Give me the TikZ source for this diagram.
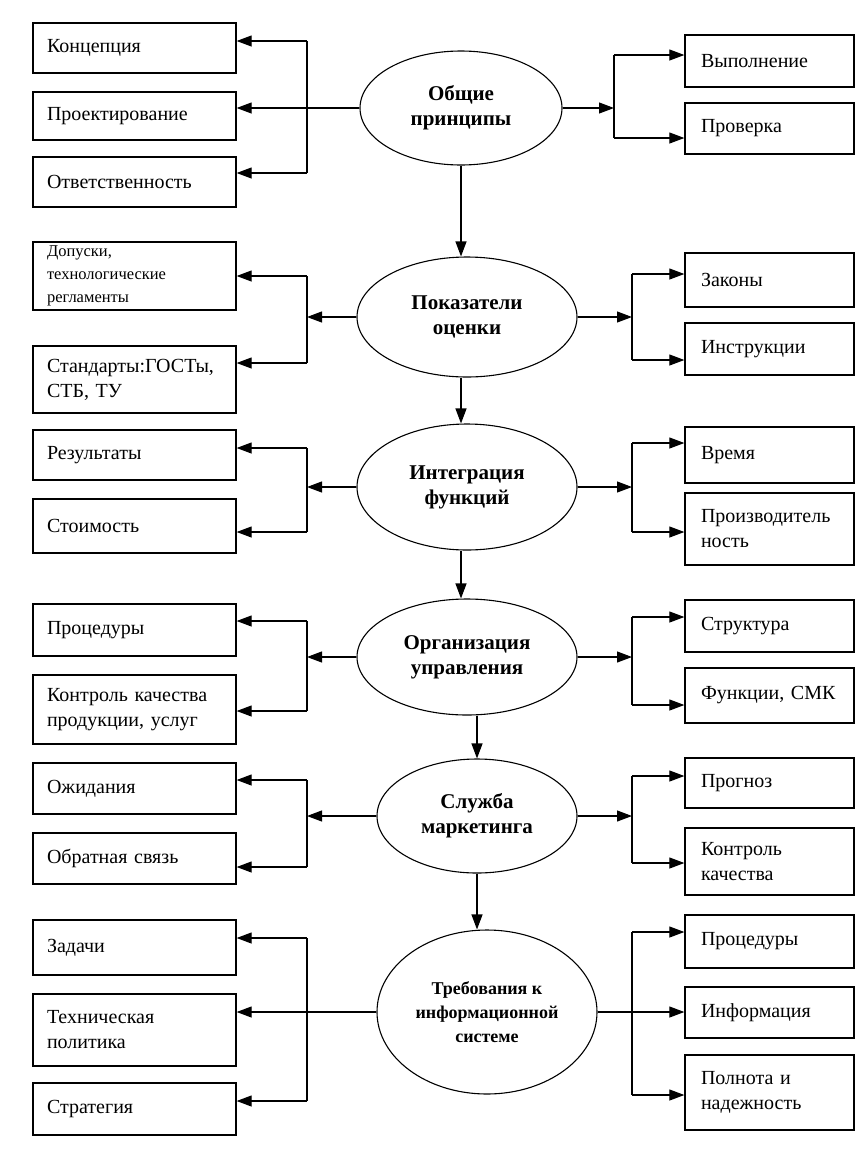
\documentclass[tikz,border=0pt]{standalone}
\usepackage{fontspec}
\setmainfont{Liberation Serif}
\usetikzlibrary{arrows.meta,shapes.geometric}

\begin{document}
\begin{tikzpicture}[x=1pt,y=-1pt,line width=1.1pt,
  arr/.style={-{Triangle[length=15pt,width=11pt]}},
  lbox/.style={draw,line width=1.3pt,rectangle,inner xsep=14pt,inner ysep=0pt,text width=175pt,align=left,font=\fontsize{20}{25}\selectfont},
  rbox/.style={lbox,inner xsep=16pt,text width=137pt},
  oval/.style={draw,ellipse,inner sep=0pt,align=center,font=\fontsize{21}{25}\selectfont\bfseries}]
\useasboundingbox (0,0) rectangle (857,1149);

\node[lbox,minimum height=50pt] (concept) at (134.5,48) {Концепция};
\node[lbox,minimum height=48pt] (design) at (134.5,116) {Проектирование};
\node[lbox,minimum height=50pt] (duty) at (134.5,182) {Ответственность};
\node[lbox,minimum height=68pt,font=\fontsize{16.5}{23}\selectfont] (tolerances) at (134.5,276) {Допуски,\\технологические\\регламенты};
\node[lbox,minimum height=67pt] (standards) at (134.5,379.5) {Стандарты:ГОСТы,\\СТБ, ТУ};
\node[lbox,minimum height=50pt] (results) at (134.5,455) {Результаты};
\node[lbox,minimum height=54pt] (cost) at (134.5,526) {Стоимость};
\node[lbox,minimum height=52pt] (procL) at (134.5,630) {Процедуры};
\node[lbox,minimum height=69pt] (quality) at (134.5,709.5) {Контроль качества\\продукции, услуг};
\node[lbox,minimum height=51pt] (expect) at (134.5,788.5) {Ожидания};
\node[lbox,minimum height=51pt] (feedback) at (134.5,858.5) {Обратная связь};
\node[lbox,minimum height=55pt] (tasks) at (134.5,947.5) {Задачи};
\node[lbox,minimum height=72pt] (techpol) at (134.5,1030) {Техническая\\политика};
\node[lbox,minimum height=52pt] (strategy) at (134.5,1109) {Стратегия};

\node[rbox,minimum height=52pt] (execution) at (769.5,61) {Выполнение};
\node[rbox,minimum height=51pt] (check) at (769.5,128.5) {Проверка};
\node[rbox,minimum height=54pt] (laws) at (769.5,280) {Законы};
\node[rbox,minimum height=52pt] (instructions) at (769.5,349) {Инструкции};
\node[rbox,minimum height=56pt] (time) at (769.5,455) {Время};
\node[rbox,minimum height=72pt] (productivity) at (769.5,529) {Производитель\\ность};
\node[rbox,minimum height=52pt] (structure) at (769.5,626) {Структура};
\node[rbox,minimum height=55pt] (functions) at (769.5,695.5) {Функции, СМК};
\node[rbox,minimum height=50pt] (forecast) at (769.5,783) {Прогноз};
\node[rbox,minimum height=67pt] (qcontrol) at (769.5,861.5) {Контроль\\качества};
\node[rbox,minimum height=53pt] (procR) at (769.5,941.5) {Процедуры};
\node[rbox,minimum height=51pt] (info) at (769.5,1012.5) {Информация};
\node[rbox,minimum height=75pt] (complete) at (769.5,1092.5) {Полнота и\\надежность};

\node[oval,minimum width=202pt,minimum height=114pt] (principles) at (461,108) {Общие\\принципы};
\node[oval,minimum width=220pt,minimum height=120pt] (indicators) at (467,317) {Показатели\\оценки};
\node[oval,minimum width=220pt,minimum height=126pt] (integration) at (467,487) {Интеграция\\функций};
\node[oval,minimum width=220pt,minimum height=116pt] (management) at (467,657) {Организация\\управления};
\node[oval,minimum width=200pt,minimum height=114pt] (marketing) at (477,816) {Служба\\маркетинга};
\node[oval,minimum width=220pt,minimum height=164pt,font=\fontsize{18}{24}\selectfont\bfseries] (infosys) at (487,1012) {Требования к\\информационной\\системе};

\coordinate (spine) at (461,0);
\draw[arr] (spine |- principles.south) -- (spine |- indicators.north);
\draw[arr] (spine |- indicators.south) -- (spine |- integration.north);
\draw[arr] (spine |- integration.south) -- (spine |- management.north);
\draw[arr] (marketing.north |- management.south) -- (marketing.north);
\draw[arr] (marketing.south) -- (marketing.south |- infosys.north);

\coordinate (lb1t) at (307,41);
\coordinate (lb1b) at (307,173);
\draw (lb1t) -- (lb1b);
\draw[arr] (lb1t) -- (lb1t -| concept.east);
\draw[arr] (lb1b) -- (lb1b -| duty.east);
\draw[arr] (principles.west) -- (principles.west -| design.east);

\coordinate (lb2t) at (307,276);
\coordinate (lb2b) at (307,363);
\draw (lb2t) -- (lb2b);
\draw[arr] (lb2t) -- (lb2t -| tolerances.east);
\draw[arr] (lb2b) -- (lb2b -| standards.east);
\draw[arr] (indicators.west) -- (indicators.west -| lb2t);

\coordinate (lb3t) at (307,448);
\coordinate (lb3b) at (307,532);
\draw (lb3t) -- (lb3b);
\draw[arr] (lb3t) -- (lb3t -| results.east);
\draw[arr] (lb3b) -- (lb3b -| cost.east);
\draw[arr] (integration.west) -- (integration.west -| lb3t);

\coordinate (lb4t) at (307,621);
\coordinate (lb4b) at (307,711);
\draw (lb4t) -- (lb4b);
\draw[arr] (lb4t) -- (lb4t -| procL.east);
\draw[arr] (lb4b) -- (lb4b -| quality.east);
\draw[arr] (management.west) -- (management.west -| lb4t);

\coordinate (lb5t) at (307,780);
\coordinate (lb5b) at (307,867);
\draw (lb5t) -- (lb5b);
\draw[arr] (lb5t) -- (lb5t -| expect.east);
\draw[arr] (lb5b) -- (lb5b -| feedback.east);
\draw[arr] (marketing.west) -- (marketing.west -| lb5t);

\coordinate (lb6t) at (307,938);
\coordinate (lb6b) at (307,1101);
\draw (lb6t) -- (lb6b);
\draw[arr] (lb6t) -- (lb6t -| tasks.east);
\draw[arr] (lb6b) -- (lb6b -| strategy.east);
\draw[arr] (infosys.west) -- (infosys.west -| techpol.east);

\coordinate (rb1t) at (614,55);
\coordinate (rb1b) at (614,138);
\draw (rb1t) -- (rb1b);
\draw[arr] (rb1t) -- (rb1t -| execution.west);
\draw[arr] (rb1b) -- (rb1b -| check.west);
\draw[arr] (principles.east) -- (principles.east -| rb1t);

\coordinate (rb2t) at (632,274);
\coordinate (rb2b) at (632,360);
\draw (rb2t) -- (rb2b);
\draw[arr] (rb2t) -- (rb2t -| laws.west);
\draw[arr] (rb2b) -- (rb2b -| instructions.west);
\draw[arr] (indicators.east) -- (indicators.east -| rb2t);

\coordinate (rb3t) at (632,443);
\coordinate (rb3b) at (632,532);
\draw (rb3t) -- (rb3b);
\draw[arr] (rb3t) -- (rb3t -| time.west);
\draw[arr] (rb3b) -- (rb3b -| productivity.west);
\draw[arr] (integration.east) -- (integration.east -| rb3t);

\coordinate (rb4t) at (632,617);
\coordinate (rb4b) at (632,705);
\draw (rb4t) -- (rb4b);
\draw[arr] (rb4t) -- (rb4t -| structure.west);
\draw[arr] (rb4b) -- (rb4b -| functions.west);
\draw[arr] (management.east) -- (management.east -| rb4t);

\coordinate (rb5t) at (632,776);
\coordinate (rb5b) at (632,863);
\draw (rb5t) -- (rb5b);
\draw[arr] (rb5t) -- (rb5t -| forecast.west);
\draw[arr] (rb5b) -- (rb5b -| qcontrol.west);
\draw[arr] (marketing.east) -- (marketing.east -| rb5t);

\coordinate (rb6t) at (632,932);
\coordinate (rb6b) at (632,1095);
\draw (rb6t) -- (rb6b);
\draw[arr] (rb6t) -- (rb6t -| procR.west);
\draw[arr] (rb6b) -- (rb6b -| complete.west);
\draw[arr] (infosys.east) -- (infosys.east -| info.west);
\end{tikzpicture}
\end{document}
